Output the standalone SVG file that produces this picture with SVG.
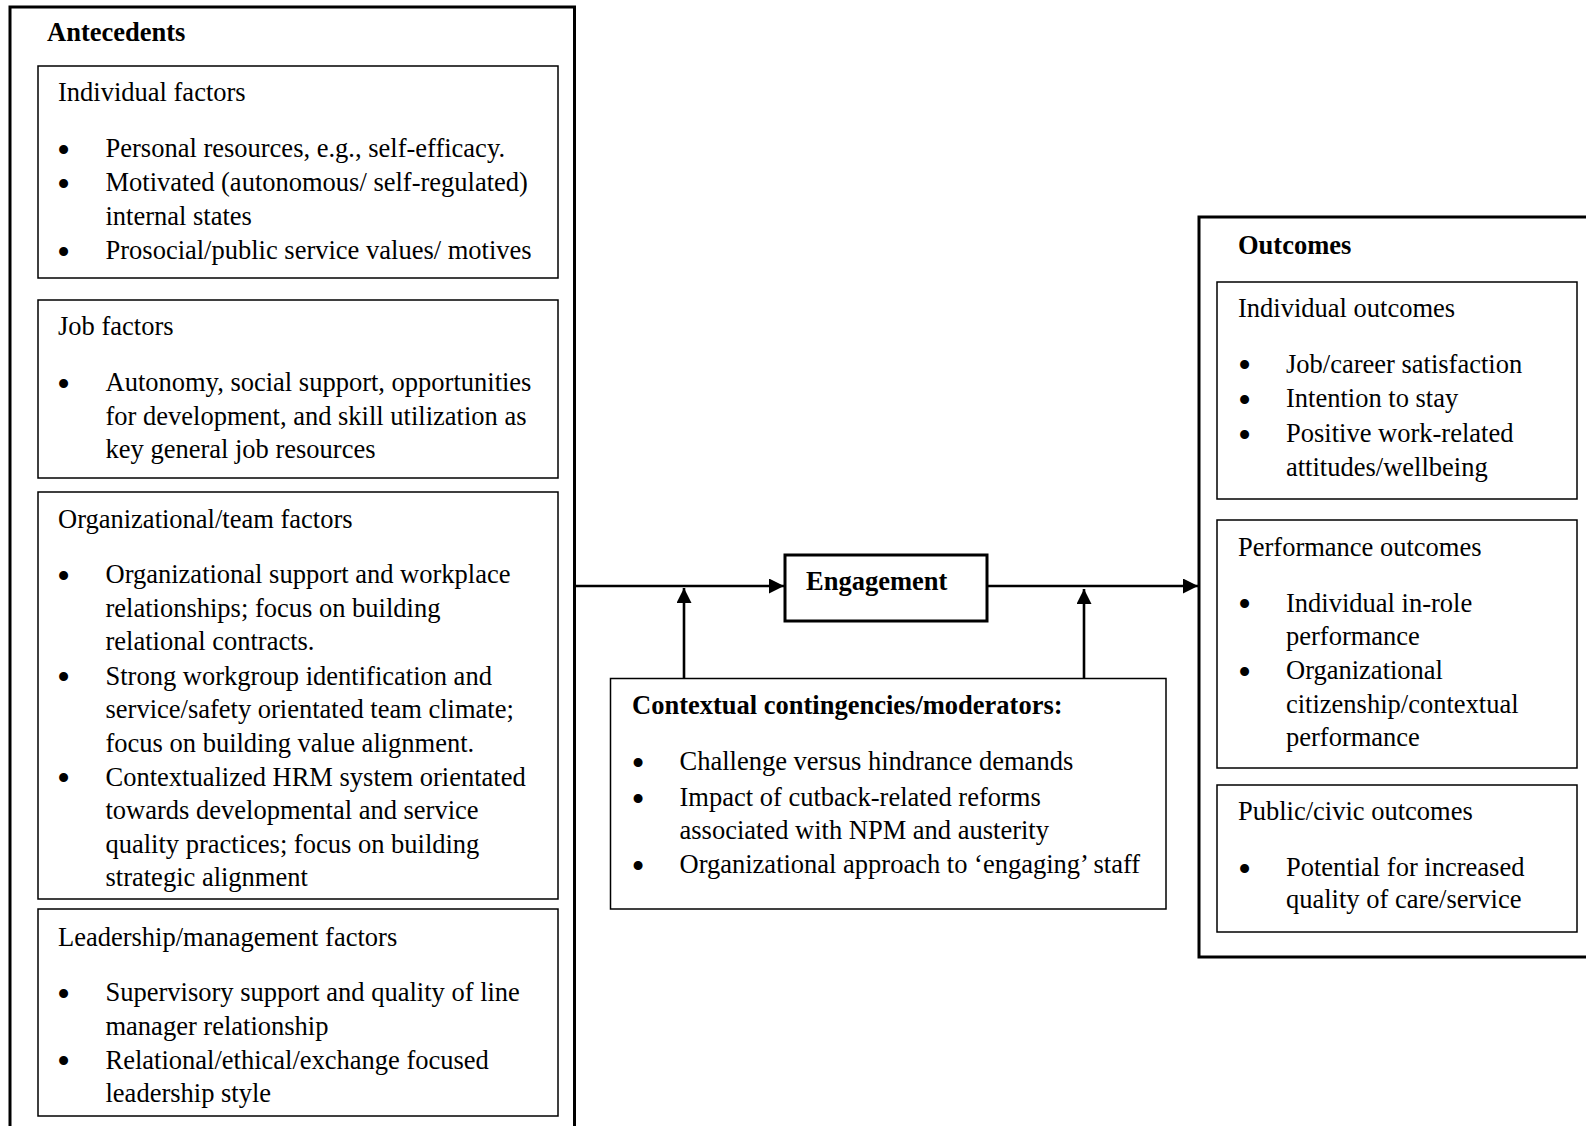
<svg xmlns="http://www.w3.org/2000/svg" width="1586" height="1126" viewBox="0 0 1586 1126">
<defs>
<style>
text{font-family:"Liberation Serif","Times New Roman",serif;font-size:26.5px;fill:#000}
.b{font-weight:bold}
.bul{text-anchor:middle;font-size:29px;stroke:#000;stroke-width:2}
.outer{fill:none;stroke:#000;stroke-width:3}
.inner{fill:none;stroke:#000;stroke-width:1.5}
.eng{fill:#fff;stroke:#000;stroke-width:3}
.conn{fill:none;stroke:#000;stroke-width:2.6}
</style>
<marker id="ah" markerWidth="16" markerHeight="16" refX="15" refY="7.5" orient="auto" markerUnits="userSpaceOnUse">
<path d="M0,0 L15,7.5 L0,15 z" fill="#000"/>
</marker>
</defs>
<rect width="1586" height="1126" fill="#fff"/>

<g id="antecedents">
<rect class="outer" x="10" y="7" width="564.5" height="1140"/>
<text class="b" x="47" y="40.5">Antecedents</text>
</g>

<g id="individual-factors">
<rect class="inner" x="38" y="66" width="520" height="212"/>
<text x="58" y="101">Individual factors</text>
<text class="bul" x="63.5" y="159.5">•</text><text x="105.5" y="157">Personal resources, e.g., self-efficacy.</text>
<text class="bul" x="63.5" y="193.5">•</text><text x="105.5" y="191">Motivated (autonomous/ self-regulated)</text>
<text x="105.5" y="225">internal states</text>
<text class="bul" x="63.5" y="261.5">•</text><text x="105.5" y="259">Prosocial/public service values/ motives</text>
</g>

<g id="job-factors">
<rect class="inner" x="38" y="300" width="520" height="178"/>
<text x="58" y="335">Job factors</text>
<text class="bul" x="63.5" y="393.5">•</text><text x="105.5" y="391">Autonomy, social support, opportunities</text>
<text x="105.5" y="424.5">for development, and skill utilization as</text>
<text x="105.5" y="458">key general job resources</text>
</g>

<g id="org-team-factors">
<rect class="inner" x="38" y="492" width="520" height="407"/>
<text x="58" y="527.5">Organizational/team factors</text>
<text class="bul" x="63.5" y="585.5">•</text><text x="105.5" y="583">Organizational support and workplace</text>
<text x="105.5" y="616.5">relationships; focus on building</text>
<text x="105.5" y="650">relational contracts.</text>
<text class="bul" x="63.5" y="687">•</text><text x="105.5" y="684.5">Strong workgroup identification and</text>
<text x="105.5" y="718">service/safety orientated team climate;</text>
<text x="105.5" y="751.5">focus on building value alignment.</text>
<text class="bul" x="63.5" y="788">•</text><text x="105.5" y="785.5">Contextualized HRM system orientated</text>
<text x="105.5" y="819">towards developmental and service</text>
<text x="105.5" y="852.5">quality practices; focus on building</text>
<text x="105.5" y="886">strategic alignment</text>
</g>

<g id="leadership-factors">
<rect class="inner" x="38" y="909" width="520" height="207"/>
<text x="58" y="945.5">Leadership/management factors</text>
<text class="bul" x="63.5" y="1003.5">•</text><text x="105.5" y="1001">Supervisory support and quality of line</text>
<text x="105.5" y="1035">manager relationship</text>
<text class="bul" x="63.5" y="1071">•</text><text x="105.5" y="1068.5">Relational/ethical/exchange focused</text>
<text x="105.5" y="1102">leadership style</text>
</g>

<g id="connectors">
<line class="conn" x1="574.5" y1="586" x2="784" y2="586" marker-end="url(#ah)"/>
<line class="conn" x1="987" y1="586" x2="1198" y2="586" marker-end="url(#ah)"/>
<line class="conn" x1="684" y1="678" x2="684" y2="588" marker-end="url(#ah)"/>
<line class="conn" x1="1084" y1="678" x2="1084" y2="589" marker-end="url(#ah)"/>
</g>

<g id="engagement">
<rect class="eng" x="785" y="555" width="202" height="66"/>
<text class="b" x="806" y="590">Engagement</text>
</g>

<g id="contextual">
<rect class="inner" x="610.5" y="678.5" width="555.5" height="230.5" fill="#fff"/>
<text class="b" x="632" y="713.5">Contextual contingencies/moderators:</text>
<text class="bul" x="638" y="772.5">•</text><text x="679.5" y="770">Challenge versus hindrance demands</text>
<text class="bul" x="638" y="808.5">•</text><text x="679.5" y="806">Impact of cutback-related reforms</text>
<text x="679.5" y="839">associated with NPM and austerity</text>
<text class="bul" x="638" y="875.5">•</text><text x="679.5" y="873">Organizational approach to ‘engaging’ staff</text>
</g>

<g id="outcomes">
<rect class="outer" x="1199" y="217" width="420" height="740"/>
<text class="b" x="1238" y="254">Outcomes</text>
</g>

<g id="individual-outcomes">
<rect class="inner" x="1217" y="282" width="360" height="217"/>
<text x="1238" y="317">Individual outcomes</text>
<text class="bul" x="1244.5" y="375">•</text><text x="1286" y="372.5">Job/career satisfaction</text>
<text class="bul" x="1244.5" y="409.5">•</text><text x="1286" y="407">Intention to stay</text>
<text class="bul" x="1244.5" y="444.5">•</text><text x="1286" y="442">Positive work-related</text>
<text x="1286" y="476">attitudes/wellbeing</text>
</g>

<g id="performance-outcomes">
<rect class="inner" x="1217" y="520" width="360" height="248"/>
<text x="1238" y="556">Performance outcomes</text>
<text class="bul" x="1244.5" y="614">•</text><text x="1286" y="611.5">Individual in-role</text>
<text x="1286" y="645">performance</text>
<text class="bul" x="1244.5" y="681.5">•</text><text x="1286" y="679">Organizational</text>
<text x="1286" y="712.5">citizenship/contextual</text>
<text x="1286" y="746">performance</text>
</g>

<g id="public-outcomes">
<rect class="inner" x="1217" y="785" width="360" height="147"/>
<text x="1238" y="820">Public/civic outcomes</text>
<text class="bul" x="1244.5" y="878.5">•</text><text x="1286" y="876">Potential for increased</text>
<text x="1286" y="908">quality of care/service</text>
</g>
</svg>
